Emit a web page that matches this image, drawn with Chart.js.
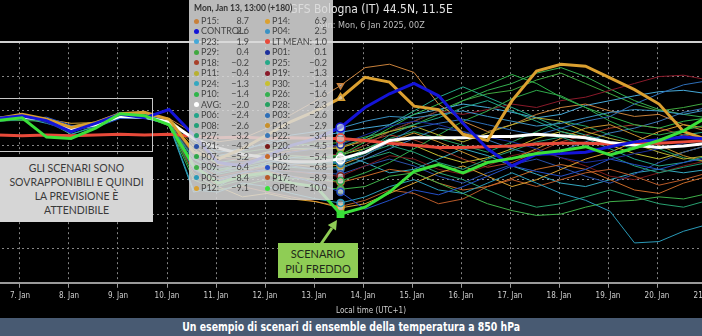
<!DOCTYPE html>
<html>
<head>
<meta charset="utf-8">
<script src="https://cdn.jsdelivr.net/npm/chart.js@4.4.1/dist/chart.umd.min.js"></script>
<style>
  html, body { margin: 0; padding: 0; background: #000; width: 702px; height: 336px; overflow: hidden; position: relative; }
  #wrap { position: absolute; left: -40px; top: 0; width: 790px; height: 318px; }
  #caption { position: absolute; left: 0; top: 318px; width: 702px; height: 18px; background: #485a72; color: #fff;
    text-align: center; font: bold 13px 'DejaVu Sans Condensed', sans-serif; line-height: 18px; }
  #caption span { display: inline-block; transform: scaleX(0.8); }
  #zone { position: absolute; left: -2px; top: 98px; width: 155px; height: 54px; border: 1.5px solid #c8c8c8; box-sizing: border-box; }
  #note { position: absolute; left: 0; top: 157px; width: 153px; height: 65px; background: #d6d6d6; color: #3a3a3a;
    font: 10.5px Lato, sans-serif; text-align: center; line-height: 14px; padding-top: 4px; box-sizing: border-box; white-space: nowrap; }
  #cold { position: absolute; left: 278px; top: 243px; width: 80px; height: 35px; background: #8fcd55; color: #1f2a1a;
    font: 11px Lato, sans-serif; text-align: center; line-height: 15px; padding-top: 3px; box-sizing: border-box; }
  #arrow { position: absolute; left: 0; top: 0; }
  #tip { position: absolute; left: 189px; top: 0; width: 144px; height: 200px; background: rgba(218,218,218,0.86);
    font-family: Lato, sans-serif; color: #444; }
  #tip .title { position: absolute; left: 5px; top: 3px; font-weight: bold; font-size: 8.5px; color: #333; white-space: nowrap; }
  #tip .dot { position: absolute; width: 5px; height: 5px; border-radius: 50%; }
  #tip .lab { position: absolute; font-size: 9px; line-height: 10px; white-space: nowrap; }
  #tip .val { position: absolute; font-size: 9px; line-height: 10px; text-align: right; width: 30px; }
</style>
</head>
<body>
<div id="wrap"><canvas id="chart" width="790" height="318"></canvas></div>
<div id="zone"></div>
<div id="note">GLI SCENARI SONO<br>SOVRAPPONIBILI E QUINDI<br>LA PREVISIONE È<br>ATTENDIBILE</div>
<svg id="arrow" width="702" height="336">
  <line x1="321" y1="244" x2="332" y2="228" stroke="#8fcd55" stroke-width="3"/>
  <polygon points="337,220 336,230.5 327.8,225" fill="#8fcd55"/>
</svg>
<div id="cold">SCENARIO<br>PIÙ FREDDO</div>
<div id="tip"></div>
<div id="caption"><span>Un esempio di scenari di ensemble della temperatura a 850 hPa</span></div>

<script>
// Forecast steps: hours since 7 Jan 00:00 local time (run 6 Jan 00Z = 01:00 local)
const hours = [-23, -11, 1, 13, 25, 37, 49, 61, 73, 85, 97, 109, 121, 133, 145, 157, 169,
  181, 193, 205, 217, 229, 241, 253, 265, 277, 289, 301, 313, 325, 337, 349, 361];
const dayHours = [0, 24, 48, 72, 96, 120, 144, 168, 192, 216, 240, 264, 288, 312, 336];
const dayLabels = ['7. Jan', '8. Jan', '9. Jan', '10. Jan', '11. Jan', '12. Jan', '13. Jan', '14. Jan',
  '15. Jan', '16. Jan', '17. Jan', '18. Jan', '19. Jan', '20. Jan', '21. Jan'];
const tempTicks = [-20, -15, -10, -5, 0, 5, 10, 15];

// 850 hPa temperature (°C)
const avg = [3.8, 3.8, 4.1, 3.7, 2.4, 3.0, 4.2, 4.1, 3.4, 1.0, -0.4, -1.3, -1.8, -2.4, -2.4, -2.0, -1.0, 0.7, 1.1, 1.1, 1.1, 1.3, 1.3, 1.6, 1.4, 1.1, 0.4, 0.0, -0.3, -0.1, 0.3, 0.5, 0.5];
const ltMean = [1.5, 1.5, 1.4, 1.5, 1.4, 1.5, 1.6, 1.5, 1.6, 1.3, 1.1, 1.2, 1.0, 1.1, 1.0, 1.0, 0.7, 0.3, 0.0, -0.3, -0.3, -0.2, -0.1, 0.2, 0.3, 0.3, 0.2, 0.3, 0.3, 0.5, 0.7, 0.7, 0.8];
const control = [3.8, 3.9, 4.3, 3.6, 2.0, 3.2, 4.5, 4.0, 5.2, 1.5, -2.5, -3.0, -1.5, 0.0, 1.0, 2.6, 5.5, 7.5, 9.0, 7.2, 3.2, -0.5, -3.0, -1.3, -1.2, -1.0, -0.2, 0.5, 0.8, 1.2, 0.9, 1.0, 1.2];
const oper = [3.5, 3.6, 4.0, 1.2, 1.0, 2.5, 4.6, 4.3, 3.0, -3.0, -5.5, -4.5, -4.0, -5.5, -6.0, -10.0, -9.0, -6.8, -3.8, -2.8, -4.0, -2.5, -1.9, -1.2, -0.8, -0.2, -1.4, -0.4, 0.7, 2.1, 4.2, 5.0, 5.5];
const p01 = [3.6, 3.9, 4.5, 3.3, 1.8, 3.4, 4.8, 4.3, 3.6, -1.5, -3.2, -2.5, -1.8, -1.0, -0.5, 0.1, 1.5, 2.8, 3.5, 3.0, 2.0, 1.2, 0.5, -0.5, -1.8, -2.5, -2.0, -1.2, -0.5, 0.3, 0.8, 1.0, 1.2];
const p02 = [3.9, 3.5, 3.8, 4.1, 2.9, 2.6, 3.9, 4.0, 3.0, -3.5, -5.2, -4.0, -3.5, -4.5, -5.5, -6.8, -9.3, -8.0, -6.5, -7.2, -6.0, -4.5, -3.0, -3.8, -4.5, -3.5, -2.0, -2.8, -3.5, -2.5, -1.8, -1.5, -1.0];
const p03 = [3.8, 4.2, 4.0, 3.9, 2.1, 3.1, 4.0, 4.6, 3.2, -2.0, -4.0, -3.0, -2.2, -2.8, -2.3, -2.56, -1.5, 0.5, 2.5, 3.2, 3.8, 3.0, 2.2, 1.5, 2.5, 3.5, 4.2, 6.0, 7.5, 8.8, 9.4, 9.5, 9.5];
const p04 = [3.7, 4.0, 4.4, 3.6, 2.5, 3.1, 4.3, 4.1, 3.5, 0.5, -1.5, -0.8, 0.5, 1.5, 2.0, 2.5, 3.5, 4.2, 4.0, 4.5, 5.0, 4.2, 3.5, 2.8, 3.2, 4.0, 4.8, 5.2, 5.0, 4.5, 5.2, 5.5, 5.5];
const p05 = [3.9, 3.8, 4.0, 3.7, 1.6, 2.7, 4.0, 3.9, 3.2, -6.5, -6.8, -5.5, -6.0, -7.0, -7.8, -8.4, -7.5, -6.0, -5.0, -6.5, -7.0, -5.5, -4.0, -5.5, -7.0, -8.0, -9.6, -14.2, -14.0, -12.5, -11.5, -10.5, -10.0];
const p06 = [3.8, 3.9, 4.1, 3.6, 2.7, 3.2, 4.2, 4.0, 3.3, -2.5, -4.2, -3.5, -2.8, -2.2, -2.6, -2.4, -1.0, 1.5, 3.0, 4.0, 5.5, 6.5, 5.0, 3.5, 2.0, 1.0, -0.5, -2.0, -3.0, -2.5, -1.5, -1.0, -0.5];
const p07 = [4.0, 3.5, 3.7, 3.8, 2.2, 2.9, 4.3, 4.2, 3.1, -4.5, -6.0, -5.0, -4.2, -4.8, -5.0, -5.2, -4.0, -2.5, -0.5, 1.5, 3.5, 5.0, 6.8, 8.0, 7.2, 5.5, 3.5, 2.0, 1.5, 2.2, 3.0, 3.2, 3.5];
const p08 = [3.7, 3.8, 4.2, 3.9, 2.6, 3.0, 4.1, 4.4, 3.6, -1.0, -3.5, -2.8, -2.0, -2.5, -2.8, -2.63, -1.2, 0.0, -1.0, -2.5, -3.5, -2.0, -0.8, 0.5, 1.2, 0.0, -1.5, -3.0, -4.0, -3.2, -2.5, -2.0, -1.8];
const p09 = [3.8, 3.6, 3.6, 3.5, 1.6, 2.8, 4.4, 4.3, 2.8, -5.0, -6.5, -5.8, -5.0, -5.5, -6.0, -6.4, -6.0, -4.5, -4.0, -5.5, -7.0, -8.5, -9.5, -10.2, -10.0, -9.0, -8.2, -8.0, -7.5, -7.8, -7.0, -6.5, -6.0];
const p10 = [3.9, 3.9, 4.0, 3.8, 2.4, 3.1, 4.2, 4.1, 3.3, -2.0, -3.8, -3.0, -2.0, -1.5, -1.8, -1.42, 0.5, 2.5, 4.5, 6.0, 7.5, 8.8, 10.3, 9.0, 7.0, 5.5, 4.2, 3.0, 2.5, 3.5, 4.0, 4.2, 4.5];
const p11 = [3.7, 3.8, 4.1, 3.7, 2.8, 3.4, 4.0, 4.0, 3.8, 1.0, -1.5, -1.8, -1.0, -0.5, -0.6, -0.4, 0.8, 2.0, 2.8, 1.5, 0.5, 1.8, 3.0, 4.0, 3.5, 2.0, 1.0, 0.2, -1.0, -2.0, -1.5, -1.0, -0.8];
const p12 = [3.8, 3.8, 4.2, 3.8, 3.2, 3.3, 4.2, 4.3, 3.7, -3.0, -6.0, -7.5, -7.0, -7.8, -8.2, -9.1, -8.5, -7.0, -5.5, -4.0, -3.0, -4.5, -6.0, -5.0, -3.5, -2.0, -1.0, 0.5, 2.0, 3.0, 2.5, 2.0, 2.0];
const p13 = [3.9, 4.1, 4.3, 3.9, 2.7, 3.2, 4.1, 4.2, 3.6, 0.0, -2.5, -3.5, -3.0, -2.8, -3.1, -2.9, -1.5, 0.5, 1.8, 0.5, -1.0, -2.5, -2.0, -0.5, 1.0, 2.5, 3.0, 1.5, 0.0, -1.5, -2.5, -3.0, -3.0];
const p14 = [3.7, 3.9, 4.5, 3.8, 2.6, 3.3, 4.6, 4.8, 3.8, -1.0, -2.0, -0.5, 1.5, 3.5, 5.0, 6.9, 9.9, 9.2, 5.7, 5.2, 1.6, 0.7, 6.5, 10.8, 11.8, 11.5, 9.8, 8.1, 6.0, 2.0, 0.8, 0.5, 0.8];
const p15 = [3.8, 3.9, 4.2, 3.8, 2.5, 3.3, 4.5, 4.4, 3.9, 1.8, 0.5, 1.0, 2.5, 4.5, 6.5, 8.7, 11.3, 11.8, 10.6, 6.0, 3.5, 2.0, 3.0, 4.5, 5.5, 6.0, 5.0, 4.2, 4.5, 3.0, 2.0, 2.0, 2.5];
const p16 = [3.7, 3.8, 4.0, 3.6, 2.3, 3.0, 4.1, 4.0, 3.3, -3.0, -5.0, -4.2, -3.8, -4.5, -5.0, -5.4, -4.5, -3.5, -4.0, -5.5, -6.5, -6.0, -4.8, -3.5, -2.8, -3.5, -5.0, -6.5, -7.0, -5.5, -4.5, -4.0, -3.5];
const p17 = [3.8, 3.7, 3.9, 3.7, 2.1, 2.9, 4.0, 4.1, 3.0, -4.0, -6.5, -6.0, -6.8, -7.5, -8.2, -8.9, -8.0, -6.5, -7.0, -8.5, -7.8, -6.0, -5.0, -6.0, -5.0, -4.0, -3.5, -4.5, -5.8, -5.0, -4.0, -3.5, -3.0];
const p18 = [3.9, 4.0, 4.3, 3.7, 2.6, 3.2, 4.3, 4.3, 3.5, 0.5, -1.8, -2.2, -1.5, -0.8, -0.5, -0.17, 0.5, 1.5, 0.8, -0.5, -2.0, -3.2, -2.5, -1.0, 0.5, 1.5, 2.5, 3.0, 2.5, 1.5, 1.0, 1.2, 1.5];
const p19 = [3.8, 3.8, 4.1, 3.8, 2.5, 2.6, 4.2, 4.1, 3.4, -1.5, -3.0, -2.6, -1.8, -1.5, -1.6, -1.26, 0.0, 2.0, 3.5, 5.0, 4.5, 5.2, 6.0, 5.5, 6.5, 7.0, 8.0, 9.0, 10.0, 10.2, 9.5, 9.0, 8.8];
const p20 = [3.7, 3.9, 4.2, 3.6, 2.4, 2.9, 4.1, 4.0, 3.2, -2.5, -4.5, -3.8, -3.2, -3.8, -4.2, -4.5, -3.0, -1.5, -2.0, -3.5, -4.2, -3.0, -1.5, -0.8, -1.8, -3.0, -4.5, -5.0, -4.0, -3.0, -2.2, -2.0, -1.5];
const p21 = [3.8, 3.7, 4.0, 3.7, 2.3, 3.0, 4.3, 4.0, 3.1, -3.5, -5.5, -4.5, -3.5, -3.8, -4.0, -4.2, -3.0, -2.0, -3.0, -4.5, -5.5, -4.0, -2.8, -2.0, -3.2, -4.5, -5.5, -4.2, -2.5, -1.0, 0.0, 0.5, 0.8];
const p22 = [3.9, 3.8, 4.1, 3.9, 2.5, 3.1, 4.1, 4.2, 3.4, -2.8, -4.8, -4.0, -3.0, -3.0, -3.5, -3.4, -2.0, -0.5, 1.0, 2.5, 2.0, 0.8, -0.5, -1.5, -0.8, 0.5, 1.8, 2.5, 3.5, 4.8, 5.5, 5.8, 6.0];
const p23 = [3.8, 3.9, 4.2, 3.8, 2.6, 3.1, 4.3, 4.2, 3.6, 0.8, -1.0, -0.5, 0.2, 1.0, 1.2, 1.9, 2.5, 3.0, 4.5, 5.2, 6.0, 5.5, 4.8, 4.0, 4.5, 5.8, 6.5, 7.2, 7.8, 8.0, 7.5, 7.2, 7.0];
const p24 = [3.7, 3.8, 4.0, 3.2, 2.2, 2.9, 4.0, 4.0, 3.0, -6.8, -6.0, -4.0, -2.5, -1.8, -1.5, -1.32, -2.5, -4.0, -3.5, -2.0, -0.5, -1.5, -3.0, -4.2, -5.5, -6.0, -5.0, -4.0, -3.5, -4.0, -3.5, -3.0, -2.8];
const p25 = [3.8, 3.8, 4.1, 3.7, 2.4, 3.1, 4.2, 4.1, 3.4, -1.0, -2.5, -2.0, -1.0, -0.5, -0.4, -0.22, 1.0, 3.0, 5.0, 7.0, 8.5, 7.0, 5.5, 4.0, 2.5, 1.5, 0.5, -0.5, 0.5, 1.5, 2.0, 2.2, 2.5];
const p26 = [3.9, 3.9, 4.0, 3.8, 2.3, 3.0, 4.1, 4.2, 3.3, -2.0, -3.5, -3.2, -2.5, -1.8, -2.0, -1.6, 0.0, 2.0, 3.5, 5.0, 6.5, 8.0, 9.0, 10.5, 11.3, 10.0, 8.2, 6.5, 5.2, 4.5, 4.0, 3.8, 3.5];
const p27 = [3.8, 3.7, 4.0, 3.7, 2.2, 2.8, 4.2, 4.1, 3.1, -3.5, -5.0, -4.5, -3.8, -3.2, -3.5, -3.2, -2.0, -1.0, -2.5, -4.0, -5.0, -6.5, -8.0, -9.0, -8.5, -7.5, -6.5, -7.5, -8.5, -9.0, -8.0, -7.5, -7.0];
const p28 = [3.9, 3.8, 4.2, 3.8, 2.5, 3.1, 4.3, 4.2, 3.5, -1.8, -3.8, -3.5, -2.8, -2.5, -2.6, -2.3, -0.5, 1.0, 2.0, 1.0, 0.0, -1.0, 0.5, 2.0, 3.5, 2.8, 1.5, 0.5, -0.5, -1.8, -2.5, -2.8, -3.0];
const p29 = [3.8, 3.9, 4.2, 3.8, 2.6, 3.3, 4.4, 4.3, 3.7, 0.5, -1.5, -1.0, -0.5, 0.0, 0.2, 0.4, 1.2, 2.0, 3.0, 4.5, 6.5, 7.5, 8.0, 9.5, 10.5, 9.0, 7.5, 6.0, 5.0, 5.5, 6.2, 6.5, 6.8];
const p30 = [3.7, 3.8, 4.1, 3.7, 2.5, 3.0, 4.1, 4.1, 3.4, -0.5, -2.8, -3.0, -2.0, -1.5, -1.8, -1.36, -0.5, 0.8, 0.0, -1.5, -2.5, -1.8, -0.5, 1.0, 2.0, 1.2, 0.0, -1.2, -2.0, -1.0, 0.0, 0.5, 0.8];

// Hovered step shown in the tooltip (Mon, Jan 13, 13:00 = +180h)
const tipIndex = 15;

// Series styling
const seriesList = [
  { name: 'P01', data: p01, color: '#1c2f9c' },
  { name: 'P02', data: p02, color: '#2450c8' },
  { name: 'P03', data: p03, color: '#2e6fb8' },
  { name: 'P04', data: p04, color: '#3a92c4' },
  { name: 'P05', data: p05, color: '#2a9ab8' },
  { name: 'P06', data: p06, color: '#22a58a' },
  { name: 'P07', data: p07, color: '#2fa84a' },
  { name: 'P08', data: p08, color: '#22a078' },
  { name: 'P09', data: p09, color: '#3fb04a' },
  { name: 'P10', data: p10, color: '#2fb54a' },
  { name: 'P11', data: p11, color: '#b8b030' },
  { name: 'P12', data: p12, color: '#d8a030' },
  { name: 'P13', data: p13, color: '#c8902c' },
  { name: 'P14', data: p14, color: '#dba030', width: 3, order: 2, marker: 'triangle' },
  { name: 'P15', data: p15, color: '#c8803a', marker: 'triangle', rotation: 180 },
  { name: 'P16', data: p16, color: '#c86a28' },
  { name: 'P17', data: p17, color: '#b85a28' },
  { name: 'P18', data: p18, color: '#a8402a' },
  { name: 'P19', data: p19, color: '#8a1a2a' },
  { name: 'P20', data: p20, color: '#7a1a1a' },
  { name: 'P21', data: p21, color: '#2a50a8' },
  { name: 'P22', data: p22, color: '#3a78b8' },
  { name: 'P23', data: p23, color: '#45a8d8' },
  { name: 'P24', data: p24, color: '#35a8c0' },
  { name: 'P25', data: p25, color: '#25a888' },
  { name: 'P26', data: p26, color: '#35b050' },
  { name: 'P27', data: p27, color: '#28a070' },
  { name: 'P28', data: p28, color: '#25a060' },
  { name: 'P29', data: p29, color: '#40a840' },
  { name: 'P30', data: p30, color: '#c8c030' },
  { name: 'LT MEAN', data: ltMean, color: '#e84a3a', width: 3, order: 4 },
  { name: 'AVG', data: avg, color: '#ffffff', width: 3, order: 3 },
  { name: 'CONTROL', data: control, color: '#1414d8', width: 3, order: 1 },
  { name: 'OPER', data: oper, color: '#3ae03a', width: 3, order: 0, marker: 'rect', fill: '#3ae03a' }
];

const xMin = -13.714, xMax = 357.55;
const axisFont = { family: "'Liberation Sans Narrow', 'DejaVu Sans Condensed', sans-serif", size: 8 };

const datasets = seriesList.map(s => ({
  label: s.name,
  data: hours.map((h, i) => ({ x: h, y: s.data[i] })),
  borderColor: s.color,
  borderWidth: s.width || 1,
  tension: 0,
  order: s.order !== undefined ? s.order : 10,
  pointStyle: s.marker || 'circle',
  rotation: s.rotation || 0,
  pointRadius: ctx => ctx.dataIndex === tipIndex ? (s.width ? 4.5 : 3.5) : 0,
  pointBorderColor: s.color,
  pointBorderWidth: 1.5,
  pointBackgroundColor: s.fill || 'rgba(235,235,235,0.55)'
}));

new Chart(document.getElementById('chart'), {
  type: 'line',
  data: { datasets },
  options: {
    responsive: false,
    animation: false,
    events: [],
    layout: { padding: { left: 32, right: 0, top: 0, bottom: 0 } },
    plugins: {
      legend: { display: false },
      tooltip: { enabled: false },
      title: {
        display: true, text: 'GFS Bologna (IT) 44.5N, 11.5E', color: '#e4e4e4',
        font: { family: "'Liberation Sans Narrow', 'DejaVu Sans Condensed', sans-serif", size: 12, weight: 'normal' },
        padding: { top: 3, bottom: 3 }
      },
      subtitle: {
        display: true, text: 'Run: Mon, 6 Jan 2025, 00Z', color: '#bdbdbd',
        font: { family: "'Liberation Sans Narrow', 'DejaVu Sans Condensed', sans-serif", size: 9 },
        padding: { top: 0, bottom: 11 }
      }
    },
    scales: {
      x: {
        type: 'linear', min: xMin, max: xMax,
        afterBuildTicks: scale => {
          scale.ticks = dayHours.filter(v => v >= xMin && v <= xMax).map(v => ({ value: v }));
        },
        ticks: {
          callback: v => dayLabels[dayHours.indexOf(v)],
          color: '#cfcfcf', font: axisFont, padding: 3, maxRotation: 0, autoSkip: false
        },
        grid: { color: '#858585', lineWidth: 1, tickLength: 5, tickColor: '#9a9a9a' },
        border: { display: true, color: '#9a9a9a', width: 2, dash: [2, 3] },
        title: { display: true, text: 'Local time (UTC+1)', color: '#cfcfcf', font: axisFont, padding: { top: 3, bottom: 2 } }
      },
      x2: {
        type: 'linear', position: 'top', min: xMin, max: xMax,
        ticks: { display: false },
        grid: { display: false, drawTicks: false },
        border: { display: true, color: '#d0d0d0', width: 2 }
      },
      y: {
        min: -20, max: 15,
        afterBuildTicks: scale => { scale.ticks = tempTicks.map(v => ({ value: v })); },
        ticks: { display: false },
        grid: { color: '#858585', lineWidth: 1, drawTicks: false },
        border: { display: false, dash: [2, 3] }
      }
    }
  }
});

// Tooltip box, sorted by value at the hovered step, two entries per row
const tip = document.getElementById('tip');
const hourAt = hours[tipIndex];
tip.innerHTML = '<div class="title">Mon, Jan 13, 13:00 (+' + (hourAt + 23) + ')</div>';
const entries = seriesList.map(s => ({ name: s.name, color: s.color, v: s.data[tipIndex] }));
entries.sort((a, b) => b.v - a.v);
entries.forEach((e, i) => {
  const col = i % 2;
  const row = Math.floor(i / 2);
  const top = 16 + row * 10.45;
  const base = col === 0 ? 5 : 76;
  const valRight = col === 0 ? 60 : 138;
  const dotColor = e.name === 'AVG' ? '#ffffff' : e.color;
  tip.innerHTML +=
    '<div class="dot" style="left:' + base + 'px;top:' + (top + 2.5) + 'px;background:' + dotColor + '"></div>' +
    '<div class="lab" style="left:' + (base + 7) + 'px;top:' + top + 'px">' + e.name + ':</div>' +
    '<div class="val" style="left:' + (valRight - 30) + 'px;top:' + top + 'px">' + e.v.toFixed(1).replace('-', '\u2212') + '</div>';
});
</script>
</body>
</html>
